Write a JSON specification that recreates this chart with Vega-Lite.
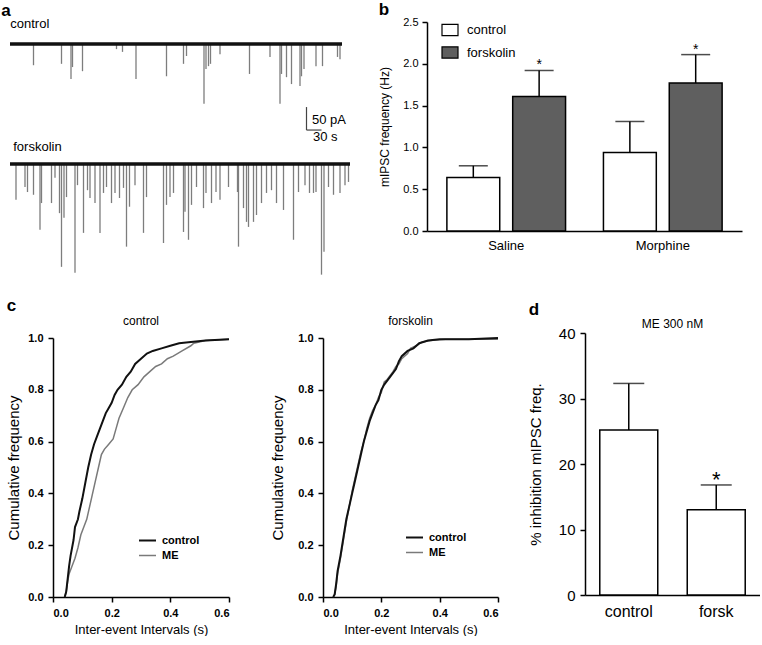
{
  "$schema": "https://vega.github.io/schema/vega-lite/v6.json",
  "padding": {"left": 1, "top": 1, "right": 0, "bottom": 0},
  "background": "white",
  "columns": 1,
  "align": "none",
  "spacing": 14,
  "resolve": {"scale": {"fill": "independent", "stroke": "independent", "strokeWidth": "independent"}, "legend": {"fill": "independent", "stroke": "independent"}},
  "config": {
    "font": "Liberation Sans",
    "view": {"stroke": null},
    "axis": {"domainColor": "black", "domainWidth": 1.5, "tickColor": "black", "tickWidth": 1.5, "tickSize": 5, "labelColor": "black", "titleColor": "black", "grid": false, "titleFontWeight": "normal"},
    "title": {"fontWeight": "normal", "color": "black", "fontSize": 12, "baseline": "alphabetic"},
    "legend": {"labelColor": "black"}
  },
  "concat": [
    {
      "align": "none",
      "spacing": 26,
      "resolve": {"scale": {"fill": "independent"}, "legend": {"fill": "independent"}},
      "concat": [
        {
          "title": {"text": "a", "anchor": "start", "fontSize": 17, "fontWeight": "bold", "dx": -7, "offset": -2},
          "spacing": 0,
          "bounds": "flush",
          "vconcat": [
            {
              "width": 340, "height": 120,
              "title": {"text": "control", "anchor": "start", "fontSize": 13, "dx": 2, "dy": 9, "offset": 0},
              "layer": [
                {
                  "data": {"values": [
                    {"t": 47, "i": -46}, {"t": 103, "i": -43}, {"t": 122, "i": -76}, {"t": 125, "i": -50}, {"t": 145, "i": -59},
                    {"t": 213, "i": -11}, {"t": 225, "i": -17}, {"t": 252, "i": -76}, {"t": 313, "i": -70}, {"t": 347, "i": -43},
                    {"t": 353, "i": -26}, {"t": 388, "i": -130}, {"t": 392, "i": -54}, {"t": 397, "i": -48}, {"t": 401, "i": -43},
                    {"t": 420, "i": -22}, {"t": 479, "i": -65}, {"t": 520, "i": -28}, {"t": 540, "i": -130}, {"t": 543, "i": -65},
                    {"t": 553, "i": -72}, {"t": 563, "i": -87}, {"t": 580, "i": -91}, {"t": 583, "i": -70}, {"t": 588, "i": -54},
                    {"t": 612, "i": -48}, {"t": 625, "i": -48}, {"t": 655, "i": -28}, {"t": 660, "i": -33}
                  ]},
                  "mark": {"type": "rule", "color": "#7d7d7d", "strokeWidth": 1.3},
                  "encoding": {
                    "x": {"field": "t", "type": "quantitative", "scale": {"domain": [0, 680], "nice": false, "zero": false}, "axis": null},
                    "y": {"field": "i", "type": "quantitative", "scale": {"domain": [-213, 48], "nice": false, "zero": false}, "axis": null},
                    "y2": {"datum": 0}
                  }
                },
                {
                  "data": {"values": [{"t": 0, "t2": 664, "i": 0}]},
                  "mark": {"type": "rule", "color": "#111111", "strokeWidth": 3.5},
                  "encoding": {
                    "x": {"field": "t", "type": "quantitative", "scale": {"domain": [0, 680], "nice": false, "zero": false}, "axis": null},
                    "x2": {"field": "t2"},
                    "y": {"field": "i", "type": "quantitative", "scale": {"domain": [-213, 48], "nice": false, "zero": false}, "axis": null}
                  }
                },
                {
                  "data": {"values": [{"t": 593, "t2": 593, "i": -137, "i2": -187}, {"t": 593, "t2": 623, "i": -187, "i2": -187}]},
                  "mark": {"type": "rule", "color": "#444444", "strokeWidth": 1.2},
                  "encoding": {
                    "x": {"field": "t", "type": "quantitative", "scale": {"domain": [0, 680], "nice": false, "zero": false}, "axis": null},
                    "x2": {"field": "t2"},
                    "y": {"field": "i", "type": "quantitative", "scale": {"domain": [-213, 48], "nice": false, "zero": false}, "axis": null},
                    "y2": {"field": "i2"}
                  }
                },
                {
                  "data": {"values": [{"t": 604, "i": -174, "label": "50 pA"}, {"t": 606, "i": -211, "label": "30 s"}]},
                  "mark": {"type": "text", "align": "left", "baseline": "alphabetic", "fontSize": 13, "color": "black"},
                  "encoding": {
                    "x": {"field": "t", "type": "quantitative", "scale": {"domain": [0, 680], "nice": false, "zero": false}, "axis": null},
                    "y": {"field": "i", "type": "quantitative", "scale": {"domain": [-213, 48], "nice": false, "zero": false}, "axis": null},
                    "text": {"field": "label"}
                  }
                }
              ]
            },
            {
              "width": 340, "height": 140,
              "title": {"text": "forskolin", "anchor": "start", "fontSize": 13, "dx": 5, "dy": 12, "offset": 0},
              "layer": [
                {
                  "data": {"values": [
                    {"t": 12, "i": -78}, {"t": 30, "i": -50}, {"t": 35, "i": -61}, {"t": 47, "i": -67}, {"t": 60, "i": -143},
                    {"t": 63, "i": -85}, {"t": 83, "i": -85}, {"t": 90, "i": -30}, {"t": 99, "i": -107}, {"t": 103, "i": -224},
                    {"t": 108, "i": -117}, {"t": 113, "i": -72}, {"t": 130, "i": -237}, {"t": 135, "i": -46}, {"t": 147, "i": -150},
                    {"t": 155, "i": -57}, {"t": 160, "i": -74}, {"t": 170, "i": -85}, {"t": 180, "i": -150}, {"t": 187, "i": -63},
                    {"t": 193, "i": -50}, {"t": 203, "i": -85}, {"t": 210, "i": -63}, {"t": 219, "i": -74}, {"t": 227, "i": -52},
                    {"t": 233, "i": -180}, {"t": 239, "i": -93}, {"t": 250, "i": -46}, {"t": 267, "i": -150}, {"t": 273, "i": -72},
                    {"t": 307, "i": -172}, {"t": 313, "i": -89}, {"t": 320, "i": -72}, {"t": 327, "i": -63}, {"t": 347, "i": -148},
                    {"t": 350, "i": -104}, {"t": 357, "i": -165}, {"t": 363, "i": -89}, {"t": 373, "i": -50}, {"t": 387, "i": -96},
                    {"t": 392, "i": -63}, {"t": 403, "i": -85}, {"t": 412, "i": -61}, {"t": 420, "i": -78}, {"t": 437, "i": -50},
                    {"t": 455, "i": -61}, {"t": 457, "i": -180}, {"t": 467, "i": -96}, {"t": 473, "i": -126}, {"t": 477, "i": -137},
                    {"t": 487, "i": -126}, {"t": 493, "i": -111}, {"t": 503, "i": -85}, {"t": 513, "i": -63}, {"t": 523, "i": -57},
                    {"t": 533, "i": -85}, {"t": 547, "i": -100}, {"t": 567, "i": -165}, {"t": 577, "i": -61}, {"t": 590, "i": -46},
                    {"t": 599, "i": -63}, {"t": 607, "i": -63}, {"t": 612, "i": -61}, {"t": 623, "i": -241}, {"t": 628, "i": -191},
                    {"t": 637, "i": -50}, {"t": 647, "i": -67}, {"t": 660, "i": -63}, {"t": 670, "i": -46}, {"t": 677, "i": -39}
                  ]},
                  "mark": {"type": "rule", "color": "#7d7d7d", "strokeWidth": 1.3},
                  "encoding": {
                    "x": {"field": "t", "type": "quantitative", "scale": {"domain": [0, 680], "nice": false, "zero": false}, "axis": null},
                    "y": {"field": "i", "type": "quantitative", "scale": {"domain": [-257, 48], "nice": false, "zero": false}, "axis": null},
                    "y2": {"datum": 0}
                  }
                },
                {
                  "data": {"values": [{"t": 0, "t2": 680, "i": 0}]},
                  "mark": {"type": "rule", "color": "#111111", "strokeWidth": 3.5},
                  "encoding": {
                    "x": {"field": "t", "type": "quantitative", "scale": {"domain": [0, 680], "nice": false, "zero": false}, "axis": null},
                    "x2": {"field": "t2"},
                    "y": {"field": "i", "type": "quantitative", "scale": {"domain": [-257, 48], "nice": false, "zero": false}, "axis": null}
                  }
                }
              ]
            }
          ]
        },
        {
          "width": 315, "height": 209,
          "title": {"text": "b", "anchor": "start", "fontSize": 17, "fontWeight": "bold", "offset": -3},
          "data": {"values": [
            {"group": "Saline", "cond": "control", "mean": 0.64, "err": 0.78},
            {"group": "Saline", "cond": "forskolin", "mean": 1.61, "err": 1.92, "sig": "*"},
            {"group": "Morphine", "cond": "control", "mean": 0.94, "err": 1.31},
            {"group": "Morphine", "cond": "forskolin", "mean": 1.77, "err": 2.11, "sig": "*"}
          ]},
          "encoding": {
            "x": {"field": "group", "type": "nominal", "sort": ["Saline", "Morphine"], "scale": {"paddingInner": 0.242, "paddingOuter": 0.127}, "axis": {"title": null, "labelAngle": 0, "ticks": false, "labelFontSize": 13, "labelPadding": 8}},
            "xOffset": {"field": "cond", "type": "nominal", "sort": ["control", "forskolin"], "scale": {"paddingInner": 0.197, "paddingOuter": 0}}
          },
          "layer": [
            {
              "mark": {"type": "rule", "color": "black", "strokeWidth": 1.5},
              "encoding": {
                "y": {"field": "mean", "type": "quantitative", "scale": {"domain": [0, 2.5], "nice": false}, "title": "mIPSC frequency (Hz)", "axis": {"values": [0, 0.5, 1, 1.5, 2, 2.5], "format": ".1f", "labelFontSize": 11, "labelPadding": 4, "titleFontSize": 12, "titlePadding": 11}},
                "y2": {"field": "err"}
              }
            },
            {
              "mark": {"type": "tick", "color": "black", "thickness": 1.5, "size": 29, "orient": "horizontal"},
              "encoding": {"y": {"field": "err", "type": "quantitative", "title": "mIPSC frequency (Hz)"}}
            },
            {
              "mark": {"type": "bar", "stroke": "black", "strokeWidth": 1.5},
              "encoding": {
                "y": {"field": "mean", "type": "quantitative", "title": "mIPSC frequency (Hz)"},
                "fill": {"field": "cond", "type": "nominal", "scale": {"domain": ["control", "forskolin"], "range": ["white", "#5f5f5f"]},
                  "legend": {"title": null, "orient": "none", "legendX": 14, "legendY": -1, "symbolType": "M-1,-0.7H1V0.7H-1Z", "symbolSize": 256, "symbolStrokeColor": "black", "symbolStrokeWidth": 1.2, "labelFontSize": 13, "labelOffset": 8, "rowPadding": 5.5}}
              }
            },
            {
              "transform": [{"filter": "datum.sig"}],
              "mark": {"type": "text", "fontSize": 14, "baseline": "alphabetic", "dy": -1, "color": "black"},
              "encoding": {"y": {"field": "err", "type": "quantitative", "title": "mIPSC frequency (Hz)"}, "text": {"field": "sig"}}
            }
          ]
        }
      ]
    },
    {
      "align": "none",
      "spacing": -5,
      "resolve": {"scale": {"stroke": "independent", "strokeWidth": "independent"}, "legend": {"stroke": "independent"}},
      "concat": [
        {"width": 1, "height": 1, "data": {"values": []}, "mark": "point", "encoding": {}},
        {
          "align": "none",
          "spacing": 26,
          "resolve": {"scale": {"stroke": "independent", "strokeWidth": "independent"}, "legend": {"stroke": "independent"}},
          "concat": [
            {
              "title": {"text": "c", "anchor": "start", "fontSize": 17, "fontWeight": "bold", "offset": 0},
              "spacing": 4,
              "bounds": "flush",
              "resolve": {"scale": {"stroke": "independent", "strokeWidth": "independent"}, "legend": {"stroke": "independent"}},
              "vconcat": [
                {"width": 1, "height": 1, "data": {"values": []}, "mark": "point", "encoding": {}},
                {
                  "spacing": 94,
                  "bounds": "flush",
                  "resolve": {"scale": {"stroke": "independent", "strokeWidth": "independent"}, "legend": {"stroke": "independent"}},
                  "hconcat": [
                    {
                      "width": 176, "height": 259,
                      "title": {"text": "control", "fontSize": 12, "offset": 4.5},
                      "data": {"values": [
                        {"s": "ME", "x": 0.04, "y": 0}, {"s": "ME", "x": 0.045, "y": 0.02}, {"s": "ME", "x": 0.05, "y": 0.06}, {"s": "ME", "x": 0.055, "y": 0.09}, {"s": "ME", "x": 0.065, "y": 0.12}, {"s": "ME", "x": 0.075, "y": 0.15}, {"s": "ME", "x": 0.085, "y": 0.19}, {"s": "ME", "x": 0.095, "y": 0.24}, {"s": "ME", "x": 0.105, "y": 0.27}, {"s": "ME", "x": 0.115, "y": 0.3}, {"s": "ME", "x": 0.125, "y": 0.35}, {"s": "ME", "x": 0.135, "y": 0.4}, {"s": "ME", "x": 0.145, "y": 0.45}, {"s": "ME", "x": 0.155, "y": 0.5}, {"s": "ME", "x": 0.165, "y": 0.55}, {"s": "ME", "x": 0.175, "y": 0.57}, {"s": "ME", "x": 0.19, "y": 0.59}, {"s": "ME", "x": 0.205, "y": 0.61}, {"s": "ME", "x": 0.215, "y": 0.65}, {"s": "ME", "x": 0.225, "y": 0.69}, {"s": "ME", "x": 0.24, "y": 0.73}, {"s": "ME", "x": 0.255, "y": 0.77}, {"s": "ME", "x": 0.27, "y": 0.8}, {"s": "ME", "x": 0.29, "y": 0.82}, {"s": "ME", "x": 0.31, "y": 0.85}, {"s": "ME", "x": 0.33, "y": 0.87}, {"s": "ME", "x": 0.35, "y": 0.89}, {"s": "ME", "x": 0.37, "y": 0.9}, {"s": "ME", "x": 0.39, "y": 0.92}, {"s": "ME", "x": 0.41, "y": 0.93}, {"s": "ME", "x": 0.44, "y": 0.95}, {"s": "ME", "x": 0.47, "y": 0.97}, {"s": "ME", "x": 0.48, "y": 0.98}, {"s": "ME", "x": 0.52, "y": 0.99}, {"s": "ME", "x": 0.6, "y": 0.995},
                        {"s": "control", "x": 0.04, "y": 0}, {"s": "control", "x": 0.045, "y": 0.02}, {"s": "control", "x": 0.05, "y": 0.07}, {"s": "control", "x": 0.055, "y": 0.12}, {"s": "control", "x": 0.06, "y": 0.16}, {"s": "control", "x": 0.07, "y": 0.22}, {"s": "control", "x": 0.075, "y": 0.27}, {"s": "control", "x": 0.085, "y": 0.3}, {"s": "control", "x": 0.09, "y": 0.33}, {"s": "control", "x": 0.1, "y": 0.38}, {"s": "control", "x": 0.11, "y": 0.44}, {"s": "control", "x": 0.12, "y": 0.5}, {"s": "control", "x": 0.13, "y": 0.55}, {"s": "control", "x": 0.14, "y": 0.59}, {"s": "control", "x": 0.15, "y": 0.62}, {"s": "control", "x": 0.16, "y": 0.65}, {"s": "control", "x": 0.17, "y": 0.68}, {"s": "control", "x": 0.18, "y": 0.71}, {"s": "control", "x": 0.19, "y": 0.73}, {"s": "control", "x": 0.2, "y": 0.75}, {"s": "control", "x": 0.21, "y": 0.78}, {"s": "control", "x": 0.22, "y": 0.8}, {"s": "control", "x": 0.235, "y": 0.82}, {"s": "control", "x": 0.25, "y": 0.85}, {"s": "control", "x": 0.265, "y": 0.87}, {"s": "control", "x": 0.28, "y": 0.9}, {"s": "control", "x": 0.3, "y": 0.92}, {"s": "control", "x": 0.32, "y": 0.94}, {"s": "control", "x": 0.34, "y": 0.95}, {"s": "control", "x": 0.37, "y": 0.96}, {"s": "control", "x": 0.4, "y": 0.97}, {"s": "control", "x": 0.43, "y": 0.98}, {"s": "control", "x": 0.47, "y": 0.985}, {"s": "control", "x": 0.52, "y": 0.99}, {"s": "control", "x": 0.6, "y": 0.995}
                      ]},
                      "mark": {"type": "line"},
                      "encoding": {
                        "x": {"field": "x", "type": "quantitative", "scale": {"domain": [0, 0.6], "nice": false}, "axis": {"values": [0, 0.2, 0.4, 0.6], "format": ".1f", "title": "Inter-event Intervals (s)", "labelFontSize": 11, "labelFontWeight": "bold", "labelPadding": 5, "titleFontSize": 13, "titlePadding": 5}},
                        "y": {"field": "y", "type": "quantitative", "scale": {"domain": [0, 1], "nice": false}, "axis": {"values": [0, 0.2, 0.4, 0.6, 0.8, 1], "format": ".1f", "title": "Cumulative frequency", "labelFontSize": 11, "labelFontWeight": "bold", "labelPadding": 5, "titleFontSize": 15, "titlePadding": 6}},
                        "stroke": {"field": "s", "type": "nominal", "scale": {"domain": ["control", "ME"], "range": ["#111111", "#7a7a7a"]},
                          "legend": {"title": null, "orient": "none", "legendX": 85, "legendY": 193, "symbolType": "stroke", "symbolSize": 289, "symbolStrokeWidth": 2, "labelFontSize": 11, "labelFontWeight": "bold", "labelOffset": 5, "rowPadding": 0}},
                        "strokeWidth": {"field": "s", "type": "nominal", "scale": {"domain": ["control", "ME"], "range": [2, 1.5]}, "legend": null}
                      }
                    },
                    {
                      "width": 175, "height": 259,
                      "title": {"text": "forskolin", "fontSize": 12, "offset": 4.5},
                      "data": {"values": [
                        {"s": "ME", "x": 0.035, "y": 0}, {"s": "ME", "x": 0.04, "y": 0.01}, {"s": "ME", "x": 0.045, "y": 0.04}, {"s": "ME", "x": 0.05, "y": 0.09}, {"s": "ME", "x": 0.06, "y": 0.15}, {"s": "ME", "x": 0.07, "y": 0.22}, {"s": "ME", "x": 0.08, "y": 0.29}, {"s": "ME", "x": 0.09, "y": 0.35}, {"s": "ME", "x": 0.1, "y": 0.41}, {"s": "ME", "x": 0.11, "y": 0.46}, {"s": "ME", "x": 0.12, "y": 0.51}, {"s": "ME", "x": 0.13, "y": 0.56}, {"s": "ME", "x": 0.14, "y": 0.6}, {"s": "ME", "x": 0.15, "y": 0.65}, {"s": "ME", "x": 0.16, "y": 0.69}, {"s": "ME", "x": 0.17, "y": 0.72}, {"s": "ME", "x": 0.18, "y": 0.74}, {"s": "ME", "x": 0.19, "y": 0.77}, {"s": "ME", "x": 0.2, "y": 0.79}, {"s": "ME", "x": 0.21, "y": 0.83}, {"s": "ME", "x": 0.22, "y": 0.84}, {"s": "ME", "x": 0.24, "y": 0.87}, {"s": "ME", "x": 0.25, "y": 0.89}, {"s": "ME", "x": 0.26, "y": 0.9}, {"s": "ME", "x": 0.27, "y": 0.92}, {"s": "ME", "x": 0.29, "y": 0.94}, {"s": "ME", "x": 0.3, "y": 0.96}, {"s": "ME", "x": 0.32, "y": 0.97}, {"s": "ME", "x": 0.34, "y": 0.985}, {"s": "ME", "x": 0.37, "y": 0.99}, {"s": "ME", "x": 0.42, "y": 0.995}, {"s": "ME", "x": 0.6, "y": 0.995},
                        {"s": "control", "x": 0.035, "y": 0}, {"s": "control", "x": 0.04, "y": 0.01}, {"s": "control", "x": 0.045, "y": 0.05}, {"s": "control", "x": 0.05, "y": 0.1}, {"s": "control", "x": 0.06, "y": 0.16}, {"s": "control", "x": 0.07, "y": 0.23}, {"s": "control", "x": 0.08, "y": 0.3}, {"s": "control", "x": 0.09, "y": 0.35}, {"s": "control", "x": 0.1, "y": 0.4}, {"s": "control", "x": 0.11, "y": 0.45}, {"s": "control", "x": 0.12, "y": 0.5}, {"s": "control", "x": 0.13, "y": 0.55}, {"s": "control", "x": 0.14, "y": 0.6}, {"s": "control", "x": 0.15, "y": 0.64}, {"s": "control", "x": 0.16, "y": 0.68}, {"s": "control", "x": 0.17, "y": 0.71}, {"s": "control", "x": 0.18, "y": 0.74}, {"s": "control", "x": 0.19, "y": 0.76}, {"s": "control", "x": 0.2, "y": 0.8}, {"s": "control", "x": 0.21, "y": 0.82}, {"s": "control", "x": 0.23, "y": 0.85}, {"s": "control", "x": 0.25, "y": 0.88}, {"s": "control", "x": 0.26, "y": 0.91}, {"s": "control", "x": 0.27, "y": 0.93}, {"s": "control", "x": 0.29, "y": 0.95}, {"s": "control", "x": 0.31, "y": 0.96}, {"s": "control", "x": 0.33, "y": 0.98}, {"s": "control", "x": 0.36, "y": 0.99}, {"s": "control", "x": 0.4, "y": 0.995}, {"s": "control", "x": 0.5, "y": 0.995}, {"s": "control", "x": 0.6, "y": 1.0}
                      ]},
                      "mark": {"type": "line"},
                      "encoding": {
                        "x": {"field": "x", "type": "quantitative", "scale": {"domain": [0, 0.6], "nice": false}, "axis": {"values": [0, 0.2, 0.4, 0.6], "format": ".1f", "title": "Inter-event Intervals (s)", "labelFontSize": 11, "labelFontWeight": "bold", "labelPadding": 5, "titleFontSize": 13, "titlePadding": 5}},
                        "y": {"field": "y", "type": "quantitative", "scale": {"domain": [0, 1], "nice": false}, "axis": {"values": [0, 0.2, 0.4, 0.6, 0.8, 1], "format": ".1f", "title": "Cumulative frequency", "labelFontSize": 11, "labelFontWeight": "bold", "labelPadding": 5, "titleFontSize": 15, "titlePadding": 12}},
                        "stroke": {"field": "s", "type": "nominal", "scale": {"domain": ["control", "ME"], "range": ["#111111", "#7a7a7a"]},
                          "legend": {"title": null, "orient": "none", "legendX": 82, "legendY": 190, "symbolType": "stroke", "symbolSize": 289, "symbolStrokeWidth": 2, "labelFontSize": 11, "labelFontWeight": "bold", "labelOffset": 5, "rowPadding": 0}},
                        "strokeWidth": {"field": "s", "type": "nominal", "scale": {"domain": ["control", "ME"], "range": [2, 1.5]}, "legend": null}
                      }
                    }
                  ]
                }
              ]
            },
            {
              "title": {"text": "d", "anchor": "start", "fontSize": 17, "fontWeight": "bold", "offset": -1.6},
              "vconcat": [
                {
                  "width": 175, "height": 262,
                  "title": {"text": "ME 300 nM", "fontSize": 12, "offset": -4.5},
                  "data": {"values": [
                    {"cond": "control", "mean": 25.2, "err": 32.3},
                    {"cond": "forsk", "mean": 13.0, "err": 16.8, "sig": "*"}
                  ]},
                  "encoding": {
                    "x": {"field": "cond", "type": "nominal", "sort": ["control", "forsk"], "scale": {"paddingInner": 0.337, "paddingOuter": 0.169}, "axis": {"title": null, "labelAngle": 0, "ticks": false, "labelFontSize": 16, "labelPadding": 8}}
                  },
                  "layer": [
                    {
                      "mark": {"type": "rule", "color": "black", "strokeWidth": 1.5},
                      "encoding": {
                        "y": {"field": "mean", "type": "quantitative", "scale": {"domain": [0, 40], "nice": false}, "title": "% inhibition mIPSC freq.", "axis": {"values": [0, 10, 20, 30, 40], "labelFontSize": 15, "labelPadding": 5, "titleFontSize": 15, "titlePadding": 14.5}},
                        "y2": {"field": "err"}
                      }
                    },
                    {
                      "mark": {"type": "tick", "color": "black", "thickness": 1.5, "size": 31, "orient": "horizontal"},
                      "encoding": {"y": {"field": "err", "type": "quantitative", "title": "% inhibition mIPSC freq."}}
                    },
                    {
                      "mark": {"type": "bar", "stroke": "black", "strokeWidth": 1.5, "fill": "white"},
                      "encoding": {"y": {"field": "mean", "type": "quantitative", "title": "% inhibition mIPSC freq."}}
                    },
                    {
                      "transform": [{"filter": "datum.sig"}],
                      "mark": {"type": "text", "fontSize": 22, "baseline": "alphabetic", "dy": 2, "color": "black"},
                      "encoding": {"y": {"field": "err", "type": "quantitative", "title": "% inhibition mIPSC freq."}, "text": {"field": "sig"}}
                    }
                  ]
                }
              ]
            }
          ]
        }
      ]
    }
  ]
}
